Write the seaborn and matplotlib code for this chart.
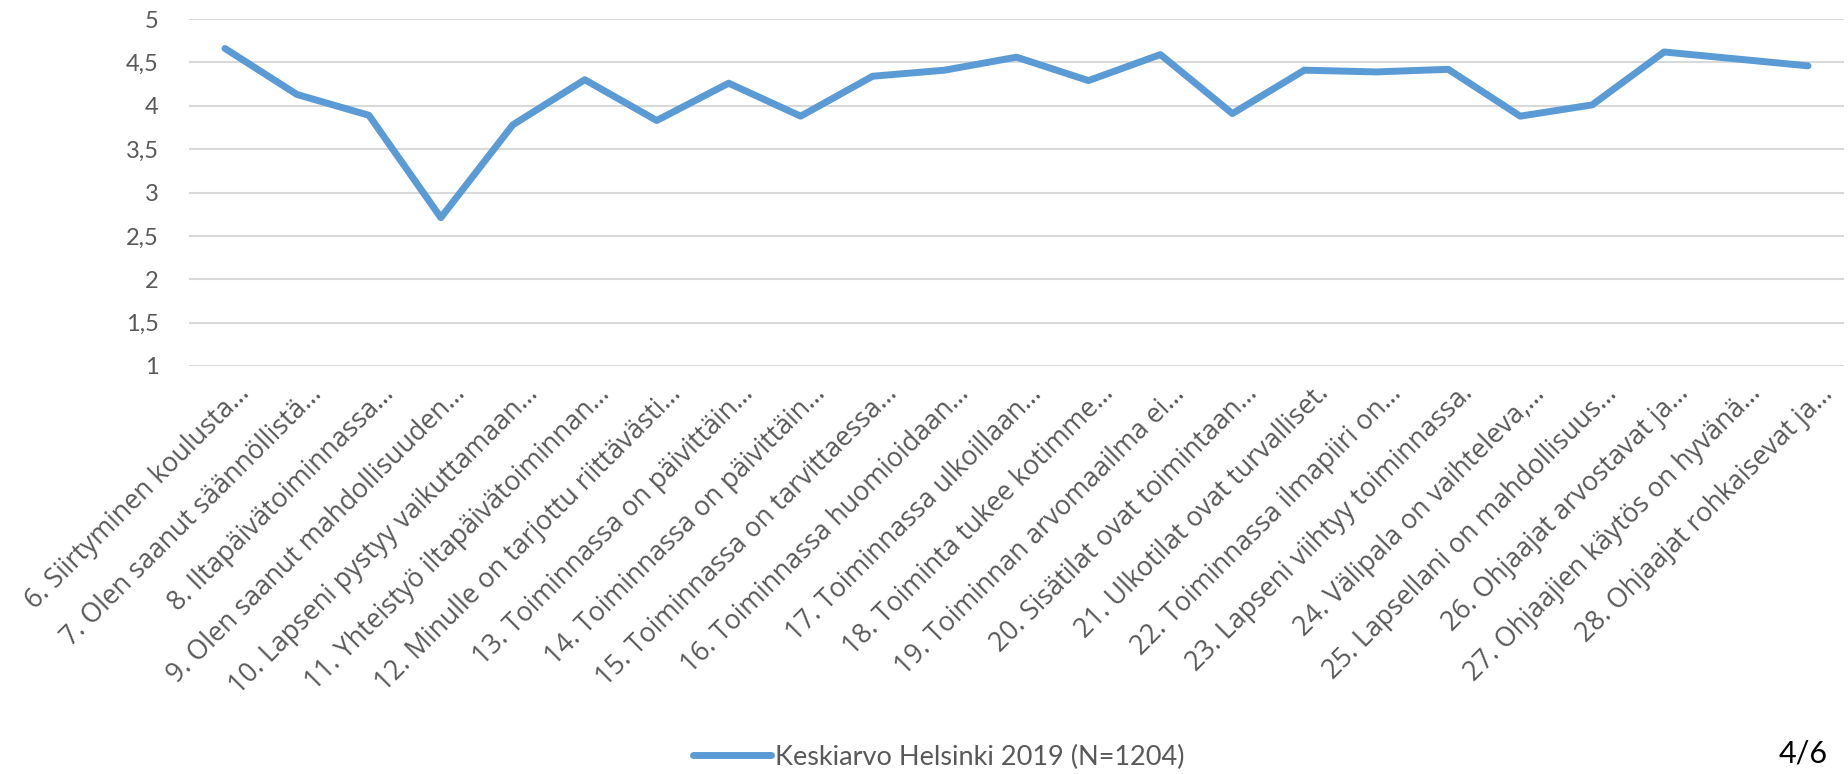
import numpy as np
import pandas as pd
import matplotlib
matplotlib.use('Agg')
import matplotlib.pyplot as plt
import matplotlib.transforms as mtransforms
from matplotlib.ticker import FuncFormatter
import seaborn as sns

kysymykset = [
    '6. Siirtyminen koulusta…',
    '7. Olen saanut säännöllistä…',
    '8. Iltapäivätoiminnassa…',
    '9. Olen saanut mahdollisuuden…',
    '10. Lapseni pystyy vaikuttamaan…',
    '11. Yhteistyö iltapäivätoiminnan…',
    '12. Minulle on tarjottu riittävästi…',
    '13. Toiminnassa on päivittäin…',
    '14. Toiminnassa on päivittäin…',
    '15. Toiminnassa on tarvittaessa…',
    '16. Toiminnassa huomioidaan…',
    '17. Toiminnassa ulkoillaan…',
    '18. Toiminta tukee kotimme…',
    '19. Toiminnan arvomaailma ei…',
    '20. Sisätilat ovat toimintaan…',
    '21. Ulkotilat ovat turvalliset.',
    '22. Toiminnassa ilmapiiri on…',
    '23. Lapseni viihtyy toiminnassa.',
    '24. Välipala on vaihteleva,…',
    '25. Lapsellani on mahdollisuus…',
    '26. Ohjaajat arvostavat ja…',
    '27. Ohjaajien käytös on hyvänä…',
    '28. Ohjaajat rohkaisevat ja…',
]
keskiarvot = [4.66, 4.13, 3.89, 2.71, 3.78, 4.30, 3.83, 4.26, 3.88, 4.34, 4.41, 4.56,
              4.29, 4.59, 3.91, 4.41, 4.39, 4.42, 3.88, 4.01, 4.62, 4.54, 4.46]
yTicks = [1, 1.5, 2, 2.5, 3, 3.5, 4, 4.5, 5]
sarjanNimi = 'Keskiarvo Helsinki 2019 (N=1204)'
sivu = '4/6'


def plotKeskiarvot(outputPath='out.png'):
    df = pd.DataFrame({'kysymys': kysymykset, 'keskiarvo': keskiarvot})

    sns.set_style('white')
    plt.rcParams['font.family'] = ['Lato', 'DejaVu Sans']
    textColor = '#595959'

    fig = plt.figure(figsize=(18.48, 7.74), dpi=100)
    ax = fig.add_axes([189 / 1848, 1 - 366 / 774, (1844 - 189) / 1848, (366 - 19) / 774])

    sns.lineplot(data=df, x='kysymys', y='keskiarvo', sort=False, color='#5B9BD5',
                 linewidth=5, solid_joinstyle='round', solid_capstyle='round',
                 label=sarjanNimi, legend=False, ax=ax)

    ax.set_xlim(-0.5, len(kysymykset) - 0.5)
    ax.set_ylim(min(yTicks), max(yTicks))
    ax.set_yticks(yTicks)
    ax.yaxis.set_major_formatter(FuncFormatter(lambda v, _: f'{v:g}'.replace('.', ',')))
    ax.grid(axis='y', color='#D9D9D9', linewidth=1.5)
    ax.grid(axis='x', visible=False)
    ax.set_axisbelow(True)
    for spine in ax.spines.values():
        spine.set_visible(False)
    ax.set_xlabel('')
    ax.set_ylabel('')

    ax.tick_params(axis='y', length=0, pad=22, labelsize=17, labelcolor=textColor)
    ax.tick_params(axis='x', length=0, pad=10)
    ax.set_xticks(range(len(kysymykset)))
    ax.set_xticklabels(kysymykset, rotation=45, ha='right', va='top', rotation_mode='anchor',
                       fontsize=19.3, color=textColor, fontfamily='Open Sans')
    offset = mtransforms.ScaledTranslation(11 / 100, 0, fig.dpi_scale_trans)
    for lbl in ax.get_xticklabels():
        lbl.set_transform(lbl.get_transform() + offset)

    handles, labels = ax.get_legend_handles_labels()
    fig.legend(handles, labels, loc='center', bbox_to_anchor=(0.508, 0.022), frameon=False,
               fontsize=19.5, labelcolor=textColor, handlelength=2.9, handletextpad=0.15)

    fig.text(1803 / 1848, 1 - 754 / 774, sivu, ha='center', va='center', fontsize=22, color='black')

    fig.savefig(outputPath, dpi=100)
    plt.close(fig)


if __name__ == '__main__':
    plotKeskiarvot('out.png')
